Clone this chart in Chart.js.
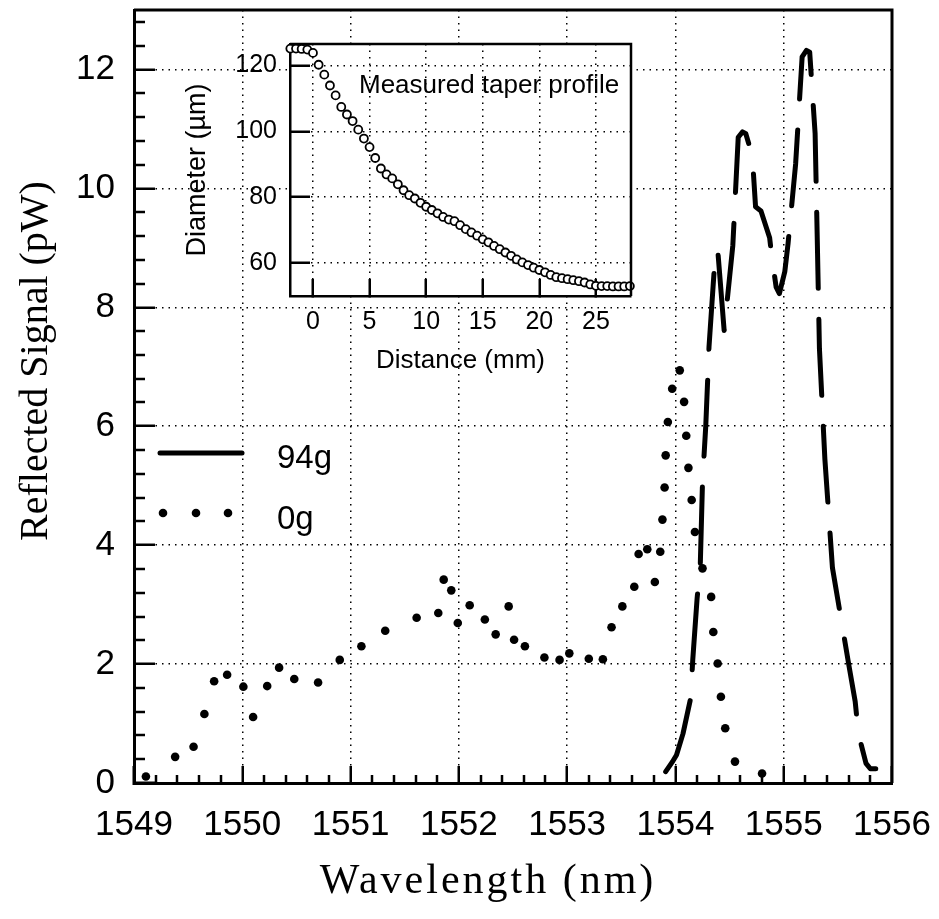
<!DOCTYPE html>
<html>
<head>
<meta charset="utf-8">
<script src="https://cdn.jsdelivr.net/npm/chart.js@4.4.1/dist/chart.umd.min.js"></script>
<style>
  html, body { margin: 0; padding: 0; background: #fff; }
  #wrap { position: relative; width: 939px; height: 919px; }
  #main { position: absolute; left: 0; top: 0; }
  #inset { position: absolute; left: 170px; top: 20px; }
</style>
</head>
<body>
<div id="wrap">
  <canvas id="main" width="939" height="919"></canvas>
  <canvas id="inset" width="480" height="370"></canvas>
</div>
<script>
// reflected spectrum, 94 g load (long dashed line)
const wl94 = [1553.91, 1553.97, 1554.01, 1554.07, 1554.14, 1554.16, 1554.20, 1554.23, 1554.25, 1554.28,
  1554.30, 1554.31, 1554.36, 1554.39, 1554.45, 1554.53, 1554.58, 1554.62, 1554.65, 1554.71,
  1554.74, 1554.79, 1554.87, 1554.89, 1554.93, 1554.96, 1555.01, 1555.04, 1555.11, 1555.17,
  1555.21, 1555.24, 1555.29, 1555.31, 1555.33, 1555.38, 1555.45, 1555.50, 1555.60, 1555.66,
  1555.69, 1555.76, 1555.80, 1555.85];
const sig94 = [0.19, 0.35, 0.47, 0.83, 1.42, 2.07, 3.10, 3.70, 5.06, 6.00,
  6.88, 7.33, 8.68, 8.98, 7.61, 9.04, 10.86, 10.95, 10.92, 10.55,
  9.69, 9.62, 9.17, 8.85, 8.34, 8.23, 8.60, 9.07, 10.41, 12.21,
  12.32, 12.29, 10.92, 9.13, 7.30, 5.45, 3.62, 3.08, 2.00, 1.37,
  0.83, 0.33, 0.24, 0.24];

// reflected spectrum, no load (dotted)
const wl0 = [1549.11, 1549.38, 1549.55, 1549.65, 1549.74, 1549.86, 1550.01, 1550.10, 1550.23, 1550.34,
  1550.48, 1550.70, 1550.90, 1551.10, 1551.32, 1551.61, 1551.81, 1551.86, 1551.93, 1551.99,
  1552.10, 1552.24, 1552.34, 1552.46, 1552.51, 1552.61, 1552.79, 1552.93, 1553.02, 1553.20,
  1553.33, 1553.41, 1553.51, 1553.62, 1553.66, 1553.74, 1553.81, 1553.86, 1553.88, 1553.90,
  1553.91, 1553.93, 1553.97, 1554.04, 1554.08, 1554.10, 1554.12, 1554.15, 1554.18, 1554.25,
  1554.33, 1554.35, 1554.39, 1554.42, 1554.46, 1554.55, 1554.80];
const sig0 = [0.11, 0.44, 0.61, 1.16, 1.71, 1.82, 1.62, 1.11, 1.63, 1.94,
  1.75, 1.69, 2.07, 2.30, 2.56, 2.78, 2.86, 3.42, 3.24, 2.69,
  2.99, 2.75, 2.50, 2.97, 2.41, 2.30, 2.11, 2.07, 2.18, 2.09,
  2.08, 2.62, 2.97, 3.30, 3.85, 3.93, 3.38, 3.89, 4.43, 4.97,
  5.51, 6.07, 6.63, 6.94, 6.41, 5.84, 5.30, 4.76, 4.22, 3.61,
  3.13, 2.54, 2.01, 1.45, 0.92, 0.36, 0.16];

// inset: measured taper profile
const taperDist = [-2, -1.5, -1, -0.5, 0, 0.5, 1, 1.5, 2, 2.5, 3, 3.5, 4, 4.5, 5, 5.5, 6, 6.5, 7, 7.5,
  8, 8.5, 9, 9.5, 10, 10.5, 11, 11.5, 12, 12.5, 13, 13.5, 14, 14.5, 15, 15.5, 16, 16.5, 17, 17.5,
  18, 18.5, 19, 19.5, 20, 20.5, 21, 21.5, 22, 22.5, 23, 23.5, 24, 24.5, 25, 25.5, 26, 26.5, 27, 27.5, 28];
const taperDiam = [125.1, 125.1, 125.0, 124.8, 123.8, 120.2, 117.2, 113.9, 110.9, 107.4, 105.1, 103.1, 100.5, 97.8, 95.2, 91.9, 88.7, 86.9, 85.7, 83.9,
  82.1, 80.6, 79.6, 78.3, 77.1, 76.1, 75.1, 74.0, 73.2, 72.7, 71.5, 70.3, 69.3, 68.3, 67.2, 66.3, 65.2, 64.2, 63.2, 62.2,
  61.1, 60.2, 59.4, 58.6, 57.9, 57.2, 56.4, 55.7, 55.4, 55.1, 54.8, 54.5, 54.1, 53.5, 53.1, 53.0, 53.0, 52.9, 52.9, 52.9, 53.0];

const seriesNames = ['94g', '0g'];

const sans = 'Liberation Sans';
const serif = 'Liberation Serif';

// fixed axis size, and no extra room for label overflow
const fixSize = (w, h) => s => {
  if (w) s.width = w;
  if (h) s.height = h;
  s.paddingTop = s.paddingBottom = s.paddingLeft = s.paddingRight = 0;
};

// closes the box on top and right
const frame = {
  id: 'frame',
  afterDraw(chart, args, opts) {
    const {ctx, chartArea: a} = chart;
    ctx.save();
    ctx.strokeStyle = '#000';
    ctx.lineWidth = opts.width;
    ctx.beginPath();
    ctx.moveTo(a.left, a.top);
    ctx.lineTo(a.right, a.top);
    ctx.lineTo(a.right, a.bottom);
    ctx.stroke();
    ctx.restore();
  }
};

// small inward ticks between the labelled ones
const minorTicks = {
  id: 'minorTicks',
  afterDraw(chart) {
    const {ctx, chartArea: a, scales: {x, y}} = chart;
    ctx.save();
    ctx.strokeStyle = '#000';
    ctx.lineWidth = 2.5;
    ctx.beginPath();
    for (let i = 1; i < 35; i++) {
      if (i % 5 === 0) continue;
      const px = Math.round(x.getPixelForValue(1549 + i * 0.2));
      ctx.moveTo(px, a.bottom);
      ctx.lineTo(px, a.bottom - 8);
    }
    for (let i = 1; i < 33; i++) {
      if (i % 5 === 0) continue;
      const py = Math.round(y.getPixelForValue(i * 0.4));
      ctx.moveTo(a.left, py);
      ctx.lineTo(a.left + 11, py);
    }
    ctx.stroke();
    ctx.restore();
  }
};

// axis titles and the legend inside the plot
const textLayer = {
  id: 'textLayer',
  afterDraw(chart) {
    const {ctx} = chart;
    const ds = chart.data.datasets;
    ctx.save();
    ctx.fillStyle = '#000';
    ctx.textBaseline = 'alphabetic';

    ctx.save();
    ctx.font = `40px "${serif}"`;
    ctx.textAlign = 'center';
    ctx.translate(47, 361);
    ctx.rotate(-Math.PI / 2);
    ctx.fillText('Reflected Signal (pW)', 0, 0);
    ctx.restore();

    ctx.save();
    ctx.font = `42px "${serif}"`;
    ctx.letterSpacing = '3px';
    ctx.textAlign = 'center';
    ctx.fillText('Wavelength (nm)', 488, 893);
    ctx.restore();

    // legend samples
    ctx.strokeStyle = '#000';
    ctx.lineWidth = ds[0].borderWidth;
    ctx.lineCap = 'round';
    ctx.beginPath();
    ctx.moveTo(160, 453);
    ctx.lineTo(242, 453);
    ctx.stroke();
    [163, 196, 228].forEach(cx => {
      ctx.beginPath();
      ctx.arc(cx, 513, ds[1].pointRadius, 0, Math.PI * 2);
      ctx.fill();
    });
    ctx.font = `33px "${sans}"`;
    ctx.textAlign = 'left';
    ctx.fillText(seriesNames[0], 277, 468);
    ctx.fillText(seriesNames[1], 277, 529);
    ctx.restore();
  }
};

new Chart(document.getElementById('main'), {
  type: 'scatter',
  data: {
    datasets: [
      {
        label: seriesNames[0],
        data: wl94.map((x, i) => ({x, y: sig94[i]})),
        showLine: true,
        borderColor: '#000',
        borderWidth: 5,
        borderDash: [76, 31],
        borderCapStyle: 'round',
        borderJoinStyle: 'round',
        pointRadius: 0,
        tension: 0
      },
      {
        label: seriesNames[1],
        data: wl0.map((x, i) => ({x, y: sig0[i]})),
        showLine: false,
        pointRadius: 4.3,
        pointBorderWidth: 0,
        pointBackgroundColor: '#000'
      }
    ]
  },
  options: {
    responsive: false,
    animation: false,
    devicePixelRatio: 1,
    layout: {padding: {top: 10, right: 47, left: 0, bottom: 0}},
    plugins: {
      legend: {display: false},
      tooltip: {enabled: false},
      frame: {width: 3}
    },
    scales: {
      x: {
        type: 'linear',
        min: 1549,
        max: 1556,
        afterFit: fixSize(0, 136),
        ticks: {
          stepSize: 1,
          includeBounds: false,
          padding: 38,
          maxRotation: 0,
          color: '#000',
          font: {family: sans, size: 35},
          callback: v => String(v)
        },
        grid: {color: '#000', lineWidth: 1.5, tickLength: -17, tickWidth: 2.5, tickColor: '#000'},
        border: {display: true, color: '#000', width: 3, dash: [1.5, 5]}
      },
      y: {
        type: 'linear',
        min: 0,
        max: 13,
        afterFit: fixSize(134, 0),
        ticks: {
          stepSize: 2,
          includeBounds: false,
          padding: 40,
          color: '#000',
          font: {family: sans, size: 35},
          callback: v => String(v)
        },
        grid: {color: '#000', lineWidth: 1.5, tickLength: -21, tickWidth: 2.5, tickColor: '#000'},
        border: {display: true, color: '#000', width: 3, dash: [1.5, 5]}
      }
    }
  },
  plugins: [minorTicks, frame, textLayer]
});

// white plot area so the main grid does not show through the inset
const whiteArea = {
  id: 'whiteArea',
  beforeDraw(chart) {
    const {ctx, chartArea: a} = chart;
    ctx.save();
    ctx.fillStyle = '#fff';
    ctx.fillRect(a.left, a.top, a.right - a.left, a.bottom - a.top);
    ctx.restore();
  }
};

const insetNote = {
  id: 'insetNote',
  afterDraw(chart) {
    const {ctx} = chart;
    ctx.save();
    ctx.fillStyle = '#000';
    ctx.font = `26px "${sans}"`;
    ctx.textAlign = 'left';
    ctx.textBaseline = 'alphabetic';
    ctx.fillText('Measured taper profile', 189, 73);
    ctx.restore();
  }
};

new Chart(document.getElementById('inset'), {
  type: 'scatter',
  data: {
    datasets: [{
      label: 'Measured taper profile',
      data: taperDist.map((x, i) => ({x, y: taperDiam[i]})),
      pointRadius: 4,
      pointBorderWidth: 1.8,
      pointBorderColor: '#000',
      pointBackgroundColor: '#fff',
      clip: false
    }]
  },
  options: {
    responsive: false,
    animation: false,
    devicePixelRatio: 1,
    layout: {padding: {top: 24, right: 19, left: 0, bottom: 0}},
    plugins: {
      legend: {display: false},
      tooltip: {enabled: false},
      frame: {width: 2.5}
    },
    scales: {
      x: {
        type: 'linear',
        min: -2.03,
        max: 28.1,
        afterFit: fixSize(0, 94),
        ticks: {
          stepSize: 5,
          includeBounds: false,
          padding: 28,
          maxRotation: 0,
          color: '#000',
          font: {family: sans, size: 25}
        },
        title: {display: true, text: 'Distance (mm)', color: '#000', font: {family: sans, size: 26}, padding: {top: 0, bottom: 14}},
        grid: {color: '#000', lineWidth: 1.5, tickLength: -17, tickWidth: 2.5, tickColor: '#000'},
        border: {display: true, color: '#000', width: 2.5, dash: [1.5, 5]}
      },
      y: {
        type: 'linear',
        min: 50,
        max: 126.5,
        afterFit: fixSize(120, 0),
        ticks: {
          stepSize: 20,
          includeBounds: false,
          padding: 33,
          color: '#000',
          font: {family: sans, size: 25}
        },
        title: {display: true, text: 'Diameter (µm)', color: '#000', font: {family: sans, size: 27}, padding: {top: 11, bottom: 0}},
        grid: {color: '#000', lineWidth: 1.5, tickLength: -20, tickWidth: 2.5, tickColor: '#000'},
        border: {display: true, color: '#000', width: 2.5, dash: [1.5, 5]}
      }
    }
  },
  plugins: [whiteArea, frame, insetNote]
});
</script>
</body>
</html>
